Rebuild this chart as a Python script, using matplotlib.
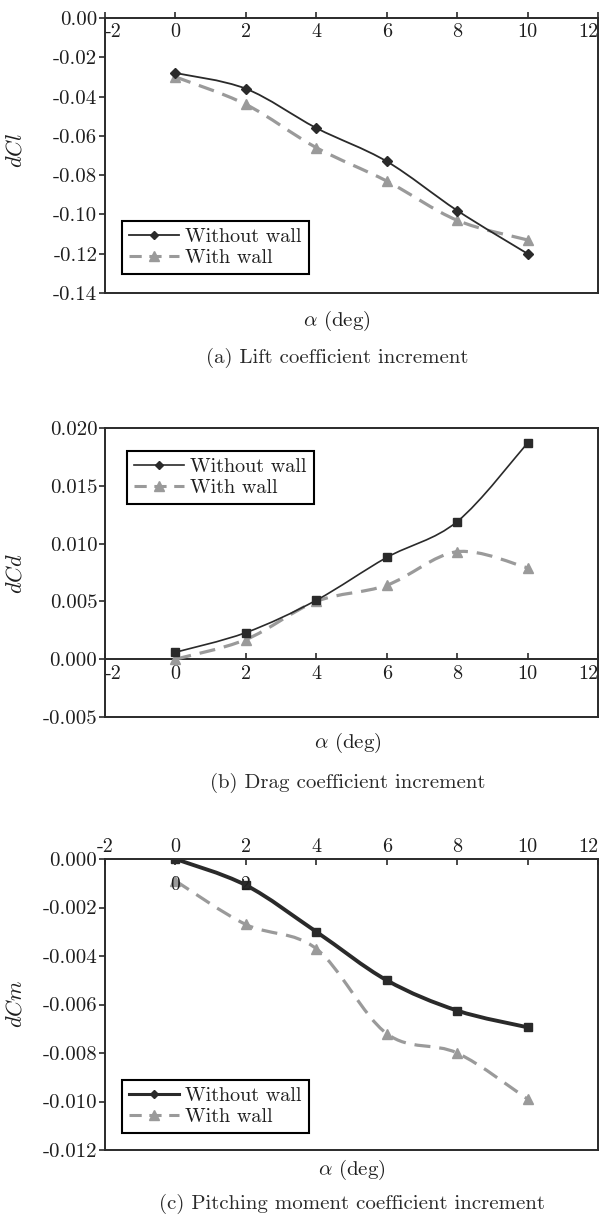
import numpy as np
import matplotlib
matplotlib.use("Agg")
import matplotlib.pyplot as plt
from matplotlib.path import Path
from matplotlib.patches import PathPatch
from matplotlib.lines import Line2D
from matplotlib.spines import Spine
from matplotlib.ticker import FixedLocator, FuncFormatter

plt.rcParams['font.family'] = ['cmr10', 'DejaVu Serif']
plt.rcParams['mathtext.fontset'] = 'cm'
plt.rcParams['axes.unicode_minus'] = False
plt.rcParams['axes.formatter.use_mathtext'] = True

# ---------------- data ----------------
alpha = [0, 2, 4, 6, 8, 10]

dCl_without = [-0.028, -0.036, -0.056, -0.073, -0.098, -0.120]
dCl_with = [-0.030, -0.044, -0.066, -0.083, -0.103, -0.113]

dCd_without = [0.0006, 0.0023, 0.0051, 0.0088, 0.0119, 0.0187]
dCd_with = [0.0000, 0.0017, 0.0050, 0.0064, 0.0093, 0.0079]

dCm_without = [0.0000, -0.00108, -0.0030, -0.0050, -0.00625, -0.00694]
dCm_with = [-0.0009, -0.0027, -0.0037, -0.0072, -0.0080, -0.0099]

x_ticks = [-2, 0, 2, 4, 6, 8, 10, 12]
ticks_a = [0.00, -0.02, -0.04, -0.06, -0.08, -0.10, -0.12, -0.14]
ticks_b = [0.020, 0.015, 0.010, 0.005, 0.000, -0.005]
ticks_c = [0.000, -0.002, -0.004, -0.006, -0.008, -0.010, -0.012]

series_labels = ["Without wall", "With wall"]
ylabels = ["$dCl$", "$dCd$", "$dCm$"]
xlabel = r"$\alpha$ (deg)"
captions = ["(a) Lift coefficient increment",
            "(b) Drag coefficient increment",
            "(c) Pitching moment coefficient increment"]
point_labels_c = ["0", "2"]

# ---------------- style ----------------
DARK = '#2a2a2a'
GRAY = '#9a9a9a'
TXT = '#1e1e1e'
W, H = 600, 1215
fig = plt.figure(figsize=(6.0, 12.15), dpi=100)


def fx(px):
    return px / W


def fy(py):
    return 1 - py / H


def smooth_path(x, y):
    pts = np.column_stack([x, y]).astype(float)
    n = len(pts)
    verts = [pts[0]]
    codes = [Path.MOVETO]
    for i in range(n - 1):
        p0 = pts[max(i - 1, 0)]
        p1 = pts[i]
        p2 = pts[i + 1]
        p3 = pts[min(i + 2, n - 1)]
        c1 = p1 + (p2 - p0) / 6.0
        c2 = p2 - (p3 - p1) / 6.0
        verts += [c1, c2, p2]
        codes += [Path.CURVE4] * 3
    return Path(verts, codes)


def make_axes(top_px, bot_px, ylim, yticks, fmt):
    left, right = 105, 598
    ax = fig.add_axes([fx(left), fy(bot_px), (right - left) / W, (bot_px - top_px) / H])
    ax.set_xlim(-2, 12)
    ax.set_ylim(*ylim)
    ax.yaxis.set_major_locator(FixedLocator(yticks))
    ax.yaxis.set_major_formatter(FuncFormatter(
        lambda v, p: (fmt % (0.0 if abs(v) < 1e-12 else v))))
    ax.xaxis.set_major_locator(FixedLocator(x_ticks))
    ax.xaxis.set_major_formatter(FuncFormatter(lambda v, p: "%d" % round(v)))
    for s in ax.spines.values():
        s.set_linewidth(1.4)
        s.set_color(DARK)
    ax.tick_params(axis='y', direction='out', length=4, width=1.2, color=DARK,
                   labelsize=15, pad=1.5, labelcolor=TXT)
    ax.tick_params(axis='x', direction='in', length=4, width=1.2, color=DARK,
                   labelsize=14.5, labelcolor=TXT)
    return ax


def draw_series(ax, x, y, color, lw, ls, marker, ms):
    ax.add_patch(PathPatch(smooth_path(x, y), facecolor='none', edgecolor=color,
                           lw=lw, linestyle=ls, capstyle='butt', zorder=3))
    ax.plot(x, y, linestyle='none', marker=marker, ms=ms, color=color,
            markeredgecolor=color, zorder=4)


def add_legend(ax, x_px, y_px, lw_without):
    handles = [
        Line2D([], [], color=DARK, lw=lw_without, marker='D', ms=4.5),
        Line2D([], [], color=GRAY, lw=2.2, linestyle=(0, (4, 2.5)), marker='^', ms=6.5),
    ]
    leg = fig.legend(handles, series_labels, loc='upper left',
                     bbox_to_anchor=(fx(x_px), fy(y_px)), bbox_transform=fig.transFigure,
                     borderaxespad=0, fancybox=False, framealpha=1, edgecolor='black',
                     fontsize=14.5, handlelength=2.5, handletextpad=0.3,
                     labelspacing=0.15, borderpad=0.35)
    leg.get_frame().set_linewidth(1.5)
    for t in leg.get_texts():
        t.set_color(TXT)
    return leg


def ylab(text, ycen):
    fig.text(fx(16), fy(ycen), text, rotation=90, ha='center', va='center',
             fontsize=16, color=TXT)


def xlab_cap(xc, y_xl, y_cap, cap):
    fig.text(fx(xc), fy(y_xl), xlabel, ha='center', va='center', fontsize=15,
             color=TXT)
    fig.text(fx(xc), fy(y_cap), cap, ha='center', va='center', fontsize=15,
             color='#2a2a2a')


def edge_labels(ax, last_center=False):
    for t in ax.get_xticklabels():
        if t.get_text() == '-2' and not last_center:
            t.set_ha('left')
        if t.get_text() == '12':
            t.set_ha('right')


# ---------------- panel (a) ----------------
ax1 = make_axes(18, 293, (-0.14, 0.0), ticks_a, "%.2f")
ax1.spines['bottom'].set_position(('axes', 1.0))
ax1.spines['top'].set_position(('axes', 0.0))
ax1.tick_params(axis='x', pad=4)
draw_series(ax1, alpha, dCl_with, GRAY, 2.3, (0, (5, 2.8)), '^', 6.5)
draw_series(ax1, alpha, dCl_without, DARK, 1.3, '-', 'D', 5)
edge_labels(ax1)
add_legend(ax1, 122, 221, 1.3)
ylab(ylabels[0], 150)
xlab_cap(337, 321, 358, captions[0])

# ---------------- panel (b) ----------------
ax2 = make_axes(428, 717, (-0.005, 0.020), ticks_b, "%.3f")
ax2.spines['bottom'].set_position(('data', 0.0))
frame_b = Spine.linear_spine(ax2, 'bottom')
frame_b.set_position(('axes', 0.0))
frame_b.set_linewidth(1.4)
frame_b.set_color(DARK)
ax2.spines['frame_bottom'] = frame_b
ax2.tick_params(axis='x', pad=4)
draw_series(ax2, alpha, dCd_with, GRAY, 2.3, (0, (5, 2.8)), '^', 6.5)
draw_series(ax2, alpha, dCd_without, DARK, 1.2, '-', 's', 6)
edge_labels(ax2)
add_legend(ax2, 127, 451, 1.2)
ylab(ylabels[1], 574)
xlab_cap(348, 743, 783, captions[1])

# ---------------- panel (c) ----------------
ax3 = make_axes(859, 1150, (-0.012, 0.0), ticks_c, "%.3f")
ax3.xaxis.tick_top()
ax3.tick_params(axis='x', pad=2)
draw_series(ax3, alpha, dCm_with, GRAY, 2.3, (0, (5, 2.8)), '^', 6.5)
draw_series(ax3, alpha, dCm_without, DARK, 2.8, '-', 's', 6)
edge_labels(ax3, last_center=True)
for i, lab in enumerate(point_labels_c):
    ax3.text(alpha[i], dCm_with[0] - 0.00017, lab, ha='center', va='center',
             fontsize=14, color=TXT, zorder=6)
add_legend(ax3, 122, 1080, 2.2)
ylab(ylabels[2], 1004)
xlab_cap(352, 1170, 1204, captions[2])

fig.savefig("out.png", dpi=100)
